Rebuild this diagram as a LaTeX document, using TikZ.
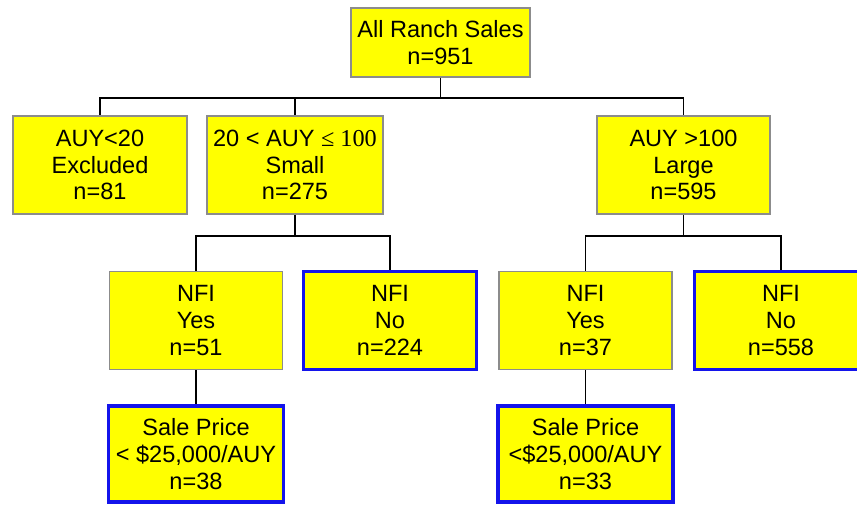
\documentclass[tikz,border=0pt]{standalone}
\usepackage{fontspec}
\setmainfont{Liberation Sans}
\newfontfamily\serifnum{Liberation Serif}
\usetikzlibrary{positioning}
\definecolor{ranchyellow}{RGB}{255,255,0}
\definecolor{ranchgray}{RGB}{140,140,140}
\definecolor{ranchblue}{RGB}{20,20,235}
\tikzset{
  ranchbox/.style={draw=ranchgray, line width=1.1pt, fill=ranchyellow,
    align=center, inner sep=2pt, minimum width=3.46cm, minimum height=1.96cm,
    font=\fontsize{13.4}{15.2}\selectfont},
  ranchkeep/.style={ranchbox, draw=ranchblue, line width=1.8pt},
  ranchline/.style={draw=black, line width=0.75pt},
}

\begin{document}
\begin{tikzpicture}[x=0.02cm, y=-0.02cm]
  \useasboundingbox (0,0) rectangle (857,505);
  \node[ranchbox, minimum width=3.58cm, minimum height=1.38cm] (root) at (440.5,42.5) {All Ranch Sales\\n=951};
  \node[ranchbox, minimum width=3.48cm] (excl) at (100,165) {AUY<20\\Excluded\\n=81};
  \node[ranchbox, minimum width=3.52cm] (small) at (295,165) {20 < AUY {\serifnum\fontsize{13.8}{15.2}\selectfont≤ 100}\\Small\\n=275};
  \node[ranchbox] (large) at (683.5,165) {AUY >100\\Large\\n=595};
  \node[ranchbox] (yesL) at (196,320.5) {NFI\\Yes\\n=51};
  \node[ranchkeep] (noL) at (390,320.5) {NFI\\No\\n=224};
  \node[ranchbox] (yesR) at (585.5,320.5) {NFI\\Yes\\n=37};
  \node[ranchkeep] (noR) at (781,320.5) {NFI\\No\\n=558};
  \node[ranchkeep, minimum width=3.5cm, minimum height=1.92cm] (saleL) at (196,454) {Sale Price\\< \$25,000/AUY\\n=38};
  \node[ranchkeep, minimum width=3.5cm, minimum height=1.92cm] (saleR) at (585.5,454) {Sale Price\\<\$25,000/AUY\\n=33};
  % first split
  \draw[ranchline] (root.south) -- ++(0,20) -| (excl.north);
  \draw[ranchline] (root.south) -- ++(0,20) -| (small.north);
  \draw[ranchline] (root.south) -- ++(0,20) -| (large.north);
  % NFI splits
  \draw[ranchline] (small.south) -- ++(0,21) -| (yesL.north);
  \draw[ranchline] (small.south) -- ++(0,21) -| (noL.north);
  \draw[ranchline] (large.south) -- ++(0,21) -| (yesR.north);
  \draw[ranchline] (large.south) -- ++(0,21) -| (noR.north);
  % price
  \draw[ranchline] (yesL.south) -- (saleL.north);
  \draw[ranchline] (yesR.south) -- (saleR.north);
\end{tikzpicture}
\end{document}
